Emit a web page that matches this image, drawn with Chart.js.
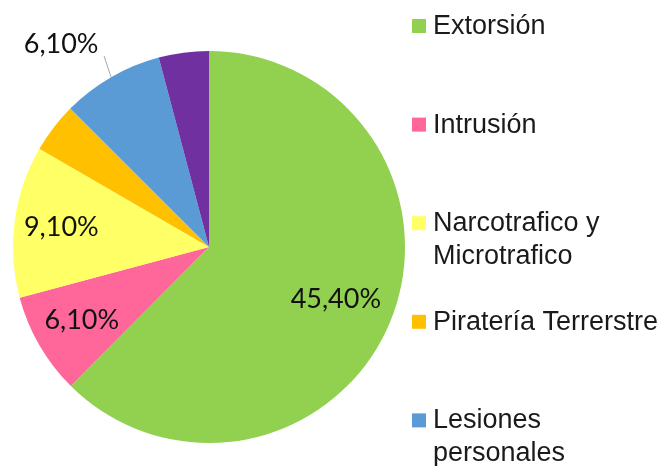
<!DOCTYPE html>
<html><head><meta charset="utf-8">
<script src="https://cdn.jsdelivr.net/npm/chart.js@4"></script>
<style>html,body{margin:0;padding:0;background:#fff;overflow:hidden}</style>
</head><body>
<canvas id="c" width="672" height="466" style="display:block;width:672px;height:466px"></canvas>
<script>
// ---- data ----
const categories = ['Extorsión', 'Intrusión', ['Narcotrafico y', 'Microtrafico'], 'Piratería Terrerstre', ['Lesiones', 'personales'], 'Otros'];
const values = [45.4, 6.1, 9.1, 3.0, 6.1, 3.0];
const showLabel = [true, true, true, false, true, false];
const colors = ['#92D050', '#FF6699', '#FFFF66', '#FFC000', '#5B9BD5', '#7030A0'];

// ---- label styling (placement per slice) ----
const labelPlace = ['in', 'in', 'in', 'none', 'out', 'none'];
const labelRadius = [0.70, 0.75, 0.76, 0, 0, 0];

function fmt(v) { return v.toFixed(2).replace('.', ',') + '%'; }

const sliceLabels = {
  id: 'sliceLabels',
  afterDatasetsDraw(chart) {
    const ctx = chart.ctx;
    const meta = chart.getDatasetMeta(0);
    ctx.save();
    ctx.font = '27px Lato';
    ctx.fillStyle = '#111';
    ctx.textAlign = 'center';
    ctx.textBaseline = 'middle';
    meta.data.forEach((arc, i) => {
      if (!showLabel[i]) return;
      const p = arc.getProps(['x', 'y', 'startAngle', 'endAngle', 'outerRadius'], true);
      const mid = (p.startAngle + p.endAngle) / 2;
      const txt = fmt(values[i]);
      if (labelPlace[i] === 'out') {
        const ex = p.x + Math.cos(mid) * p.outerRadius;
        const ey = p.y + Math.sin(mid) * p.outerRadius;
        const lx = ex - 7, ly = ey - 21;
        ctx.strokeStyle = '#a6a6a6';
        ctx.lineWidth = 1;
        ctx.beginPath(); ctx.moveTo(ex, ey); ctx.lineTo(lx, ly); ctx.stroke();
        ctx.fillText(txt, lx - 43, ly - 12);
      } else {
        const r = p.outerRadius * labelRadius[i];
        ctx.fillText(txt, p.x + Math.cos(mid) * r, p.y + Math.sin(mid) * r);
      }
    });
    ctx.restore();
  }
};

const sideLegend = {
  id: 'sideLegend',
  afterDraw(chart) {
    const ctx = chart.ctx;
    ctx.save();
    ctx.font = '27px "Liberation Sans", Arial, sans-serif';
    ctx.textAlign = 'left';
    ctx.textBaseline = 'alphabetic';
    const boxX = 412, textX = 433, firstBase = 34, step = 98.6, lineH = 33, box = 14;
    chart.data.labels.forEach((c, i) => {
      const base = firstBase + i * step;
      ctx.fillStyle = chart.data.datasets[0].backgroundColor[i];
      ctx.fillRect(boxX, base - 15, box, box);
      ctx.fillStyle = '#1a1a1a';
      const lines = Array.isArray(c) ? c : [c];
      lines.forEach((l, j) => ctx.fillText(l, textX, base + j * lineH));
    });
    ctx.restore();
  }
};

new Chart(document.getElementById('c'), {
  type: 'pie',
  data: {
    labels: categories,
    datasets: [{ data: values, backgroundColor: colors, borderWidth: 0 }]
  },
  options: {
    responsive: false,
    devicePixelRatio: 1,
    animation: false,
    layout: { padding: { left: 13, top: 51, right: 267, bottom: 23 } },
    plugins: { legend: { display: false }, tooltip: { enabled: false } }
  },
  plugins: [sliceLabels, sideLegend]
});
</script>
</body></html>
